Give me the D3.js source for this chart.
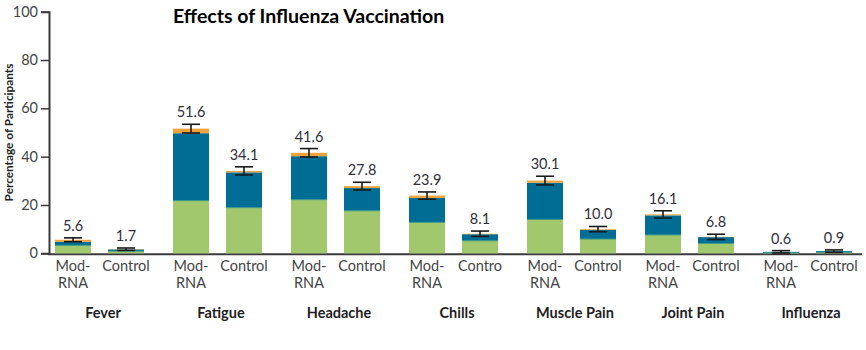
<!DOCTYPE html>
<html>
<head>
<meta charset="utf-8">
<script src="https://cdn.jsdelivr.net/npm/d3@7"></script>
<style>
  body { margin: 0; background: #fff; }
  svg text { font-family: Lato, "Noto Sans", sans-serif; }
</style>
</head>
<body>
<div id="chart"></div>
<script>
// symptom groups and the two arms
const groups = ["Fever", "Fatigue", "Headache", "Chills", "Muscle Pain", "Joint Pain", "Influenza"];
const arms = ["Mod-RNA", "Control"];
// tick text under each bar (the reference truncates one "Control")
const armLabels = [
  ["Mod-|RNA", "Control"], ["Mod-|RNA", "Control"], ["Mod-|RNA", "Control"],
  ["Mod-|RNA", "Contro"], ["Mod-|RNA", "Control"], ["Mod-|RNA", "Control"], ["Mod-|RNA", "Control"]
];
// stacked grades, in order Mod-RNA then Control for each group
const mild     = [3.3, 0.9, 21.8, 18.9, 22.2, 17.6, 12.8, 5.2, 14.0, 5.9, 7.6, 4.1, 0.2, 0.4];
const moderate = [1.5, 0.7, 27.9, 14.6, 18.0, 9.4, 10.1, 2.7, 15.2, 3.8, 8.1, 2.6, 0.4, 0.5];
const severe   = [0.8, 0.1, 1.9, 0.6, 1.4, 0.8, 1.0, 0.2, 0.9, 0.3, 0.4, 0.1, 0.0, 0.0];
const totals   = [5.6, 1.7, 51.6, 34.1, 41.6, 27.8, 23.9, 8.1, 30.1, 10.0, 16.1, 6.8, 0.6, 0.9];
const ciHalf   = [0.8, 0.5, 1.8, 1.7, 1.75, 1.6, 1.5, 1.1, 1.8, 1.1, 1.5, 1.1, 0.5, 0.5];
const yTicks = [0, 20, 40, 60, 80, 100];

const width = 866, height = 350;
const margin = { top: 12, left: 49, bottom: 97 };
const colors = { mild: "#a2c86e", moderate: "#006d94", severe: "#f0a33a" };

const svg = d3.select("#chart").append("svg")
    .attr("width", width)
    .attr("height", height);

const y = d3.scaleLinear().domain([0, 100]).range([height - margin.bottom + 0.3, margin.top - 0.3]);
const x0 = d3.scaleBand().domain(groups).range([40, 866]).padding(0);
const x1 = d3.scaleBand().domain(arms).range([-44, 45]).paddingInner(0.32).paddingOuter(0);

const rows = [];
groups.forEach((g, gi) => {
    arms.forEach((a, ai) => {
        const i = gi * 2 + ai;
        rows.push({
            group: g, arm: a, label: armLabels[gi][ai],
            mild: mild[i], moderate: moderate[i], severe: severe[i],
            total: totals[i], ci: ciHalf[i]
        });
    });
});

const stack = d3.stack().keys(["mild", "moderate", "severe"]);
const series = stack(rows);
const barX = d => x0(d.group) + x0.bandwidth() / 2 + x1(d.arm);

// x axis line, just under the bars
svg.append("line")
    .attr("x1", margin.left - 1)
    .attr("x2", 862)
    .attr("y1", y(0) + 1)
    .attr("y2", y(0) + 1)
    .attr("stroke", "#3a3a3a")
    .attr("stroke-width", 2);

// bars
svg.append("g").selectAll("g")
    .data(series)
    .join("g")
    .attr("fill", s => colors[s.key])
    .selectAll("rect")
    .data(s => s)
    .join("rect")
    .attr("x", d => barX(d.data))
    .attr("width", x1.bandwidth())
    .attr("y", d => y(d[1]))
    .attr("height", d => Math.max(0, y(d[0]) - y(d[1])));

// thin green-teal line at mild/moderate border
svg.append("g").selectAll("line")
    .data(rows)
    .join("line")
    .attr("x1", d => barX(d))
    .attr("x2", d => barX(d) + x1.bandwidth())
    .attr("y1", d => y(d.mild))
    .attr("y2", d => y(d.mild))
    .attr("stroke", "#3d9a86")
    .attr("stroke-width", 1);

// error bars
const err = svg.append("g").attr("stroke", "#1a1a1a").attr("stroke-width", 1.6);
rows.forEach(d => {
    const cx = barX(d) + x1.bandwidth() / 2;
    const t = y(d.total + d.ci), b = y(d.total - d.ci);
    err.append("line").attr("x1", cx).attr("x2", cx).attr("y1", t).attr("y2", b);
    err.append("line").attr("x1", cx - 9).attr("x2", cx + 9).attr("y1", t).attr("y2", t);
    err.append("line").attr("x1", cx - 9).attr("x2", cx + 9).attr("y1", b).attr("y2", b);
});

// value labels
svg.append("g").selectAll("text")
    .data(rows)
    .join("text")
    .attr("x", d => barX(d) + x1.bandwidth() / 2)
    .attr("y", d => y(d.total + d.ci) - 7)
    .attr("text-anchor", "middle")
    .style("font-size", "14.5px")
    .style("fill", "#2f2f3a")
    .text(d => d.total.toFixed(1));

// y axis
const yAxis = svg.append("g")
    .attr("transform", `translate(${margin.left},0)`)
    .call(d3.axisLeft(y).tickValues(yTicks).tickSize(8).tickPadding(3));
yAxis.select(".domain").attr("stroke", "#3a3a3a").attr("stroke-width", 2);
yAxis.selectAll(".tick line").attr("stroke", "#3a3a3a").attr("stroke-width", 1.5);
yAxis.selectAll(".tick text")
    .style("font-size", "14.5px")
    .style("fill", "#444");

// arm labels
const armText = svg.append("g").selectAll("text")
    .data(rows)
    .join("text")
    .attr("text-anchor", "middle")
    .style("font-size", "14.5px")
    .style("fill", "#444");
armText.each(function (d) {
    const lines = d.label.split("|");
    const cx = barX(d) + x1.bandwidth() / 2;
    d3.select(this).selectAll("tspan")
        .data(lines)
        .join("tspan")
        .attr("x", cx)
        .attr("y", (l, i) => 271 + i * 17)
        .text(l => l);
});

// group labels
svg.append("g").selectAll("text")
    .data(groups)
    .join("text")
    .attr("x", g => x0(g) + x0.bandwidth() / 2 + 4)
    .attr("y", 318)
    .attr("text-anchor", "middle")
    .style("font-size", "14.5px")
    .style("font-weight", "bold")
    .style("fill", "#1e1e1e")
    .text(g => g);

// y axis title
svg.append("text")
    .attr("transform", `translate(13,${(62 + 203) / 2}) rotate(-90)`)
    .attr("text-anchor", "middle")
    .style("font-size", "11.8px")
    .style("font-weight", "bold")
    .style("fill", "#222")
    .text("Percentage of Participants");

// title
svg.append("text")
    .attr("x", 173)
    .attr("y", 23)
    .style("font-size", "19.5px")
    .style("font-weight", "bold")
    .style("fill", "#000")
    .text("Effects of Influenza Vaccination");
</script>
</body>
</html>
